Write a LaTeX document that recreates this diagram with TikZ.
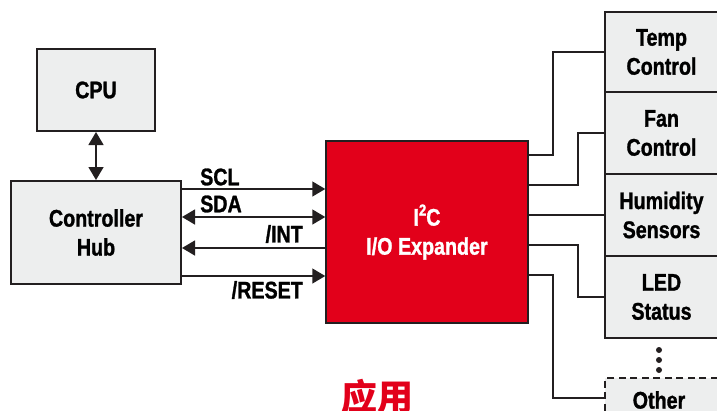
\documentclass[tikz,border=0pt]{standalone}
\usepackage{fontspec}
\setmainfont{Liberation Sans}[FakeStretch=0.82, BoldFeatures={FakeBold=1.2}]
\newfontfamily\cjk{Noto Sans CJK SC}
\usetikzlibrary{arrows.meta}

\definecolor{boxgray}{RGB}{237,238,238}
\definecolor{linegray}{RGB}{35,31,32}
\definecolor{iored}{RGB}{226,0,26}

\begin{document}
\begin{tikzpicture}[
            % pixel-like axes, y pointing down
            x=1pt, y=-1pt,
            % block and line styles
            block/.style={draw=linegray, line width=2pt, fill=boxgray, inner sep=0pt,
                          align=center, font=\bfseries\fontsize{24}{29}\selectfont},
            chip/.style={draw=linegray, line width=1.5pt, fill=iored, text=white, inner sep=0pt,
                         align=center, font=\bfseries\fontsize{24}{29}\selectfont},
            device/.style={block, minimum width=113pt, minimum height=82pt},
            siglabel/.style={inner sep=0pt, font=\bfseries\fontsize{24}{24}\selectfont},
            sig/.style={draw=linegray, line width=1.5pt},
            wire/.style={draw=linegray, line width=1.5pt},
            dot/.style={circle, fill=linegray, inner sep=0pt, minimum size=6pt},
            >={Triangle[length=13pt, width=15pt]}
        ]
        \useasboundingbox (0,0) rectangle (717,410);

        % ==============================
        % 1. HOST SIDE
        % ==============================
        \node[block, minimum width=118pt, minimum height=82pt] (cpu) at (96,90) {CPU};
        \node[block, minimum width=170pt, minimum height=103pt] (hub) at (96,232.5) {Controller\\Hub};
        \draw[sig, <->] (cpu.south) -- (hub.north);

        % ==============================
        % 2. I2C EXPANDER
        % ==============================
        \node[chip, minimum width=202pt, minimum height=182pt] (io) at (427,232)
            {I\raisebox{0.42em}{\fontsize{16}{16}\selectfont 2}C\\I/O Expander};

        % bus lines
        \foreach \y/\dir in {189/->, 217/<->, 248/<-, 276/->}
            \draw[sig, \dir] (hub.east |- 0,\y) -- (io.west |- 0,\y);

        % bus labels
        \node[siglabel, anchor=west] (lscl) at (200,177) {SCL};
        \node[siglabel, anchor=west] (lsda) at (200,204) {SDA};
        \node[siglabel, anchor=east] (lint) at (303,234) {/INT};
        \node[siglabel, anchor=east] (lreset) at (303,290) {/RESET};

        % ==============================
        % 3. PERIPHERALS
        % ==============================
        \node[device, minimum height=80pt] (temp) at (661.5,52) {Temp\\Control};
        \node[device] (fan) at (661.5,133) {Fan\\Control};
        \node[device] (hum) at (661.5,215) {Humidity\\Sensors};
        \node[device] (led) at (661.5,297) {LED\\Status};

        % more devices
        \node[dot] (d1) at (659,350) {};
        \node[dot] (d2) at (659,360) {};
        \node[dot] (d3) at (659,370) {};
        \node[device, dash pattern=on 7pt off 4.5pt] (other) at (661.5,419) {};
        \node[siglabel] (otherlabel) at (659,400) {Other};

        % expander outputs
        \draw[wire] (io.east |- 0,155) -- (553,155) |- (temp.west);
        \draw[wire] (io.east |- 0,185) -- (578,185) |- (fan.west);
        \draw[wire] (io.east |- 0,215) -- (hum.west);
        \draw[wire] (io.east |- 0,245) -- (578,245) |- (led.west);
        \draw[wire] (io.east |- 0,275) -- (553,275) |- (other.west |- 0,398);

        % Didascalia
        \node[text=iored, font=\cjk\bfseries\fontsize{36}{36}\selectfont] (caption) at (377,397) {应用};

        \end{tikzpicture}
\end{document}
